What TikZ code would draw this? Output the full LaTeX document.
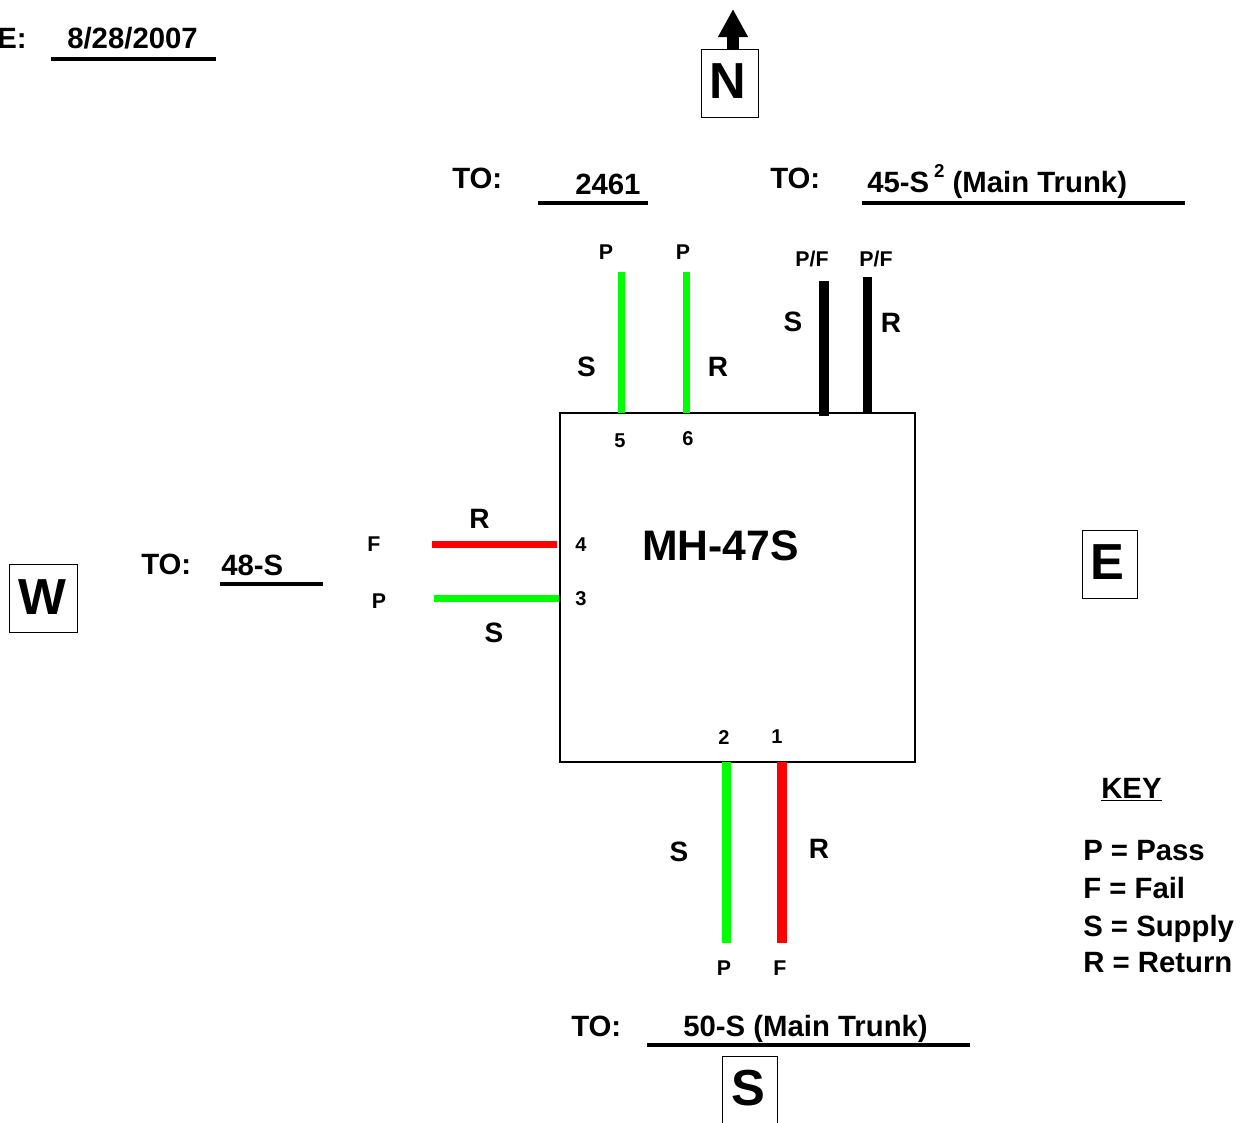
\documentclass[tikz,border=0pt]{standalone}
\usepackage{fontspec}
\setmainfont{Liberation Sans}
\usepackage{xcolor}
\usetikzlibrary{arrows.meta, positioning}
\definecolor{line-green}{RGB}{0, 255, 0}
\definecolor{line-red}{RGB}{255, 0, 0}
\begin{document}
\begin{tikzpicture}[
    x=0.75pt, y=-0.75pt,
    unit/.style={rectangle, draw=black, line width=1.6pt, inner sep=0pt,
                 minimum width=266.25pt, minimum height=261.75pt},
    dirbox/.style={rectangle, draw=black, line width=0.75pt, inner sep=0pt,
                   font=\fontsize{38}{38}\bfseries},
    to/.style={font=\fontsize{22}{22}\bfseries, anchor=base west, inner sep=0pt},
    lbl/.style={font=\fontsize{21}{21}\bfseries, inner sep=0pt},
    pin/.style={font=\fontsize{16}{16}\bfseries, inner sep=0pt},
    num/.style={font=\fontsize{15}{15}\bfseries, inner sep=0pt},
    rule/.style={line width=3pt},
    pipe/.style={line width=#1}, pipe/.default=5.25pt
  ]
    \clip (0,0) rectangle (1246,1122);

    % unit
    \node[unit] (mh) at (737.5,587.5) {};
    \node[font=\fontsize{32}{32}\bfseries, inner sep=0pt] (tag) at (720.5,546) {MH-47S};

    % compass boxes
    \node[dirbox, minimum width=42.75pt, minimum height=51pt] (nb) at (729.5,83) {};
    \node[dirbox, minimum width=41.25pt, minimum height=51pt] (eb) at (1109.5,564.5) {};
    \node[dirbox, minimum width=51pt, minimum height=51pt]    (wb) at (43.5,598.5) {};
    \node[dirbox, minimum width=41.25pt, minimum height=51pt] (sb) at (749.5,1090.5) {};
    \node[font=\fontsize{38}{38}\bfseries, inner sep=0pt] (nl) at (727.5,81) {N};
    \node[font=\fontsize{38}{38}\bfseries, inner sep=0pt] (el) at (1107.5,562) {E};
    \node[font=\fontsize{38}{38}\bfseries, inner sep=0pt] (wl) at (42,597) {W};
    \node[font=\fontsize{38}{38}\bfseries, inner sep=0pt] (sl) at (748,1088) {S};

    \coordinate (nfoot) at (733,49);
    \coordinate (ntip) at (733,9);
    \draw[-{Triangle[length=21pt, width=21pt]}, line width=8.5pt] (nfoot) -- (ntip);

    % date
    \node[to] (date) at (-3,48) {E:};
    \node[to] (dateval) at (67,48) {8/28/2007};
    \coordinate (d1) at (51,58.5);
    \coordinate (d2) at (216,58.5);
    \draw[rule] (d1) -- (d2);

    % north
    \node[to] (tonw) at (452,188) {TO:};
    \node[to] (vnw) at (575,194) {2461};
    \coordinate (nw1) at (538,203);
    \coordinate (nw2) at (648,203);
    \draw[rule] (nw1) -- (nw2);

    \node[to] (tone) at (770,188) {TO:};
    \node[to] (vne) at (867,192) {45-S\,\raisebox{11pt}{\fontsize{14}{14}\bfseries 2} (Main Trunk)};
    \coordinate (ne1) at (862,203);
    \coordinate (ne2) at (1185,203);
    \draw[rule] (ne1) -- (ne2);

    \coordinate (p5) at (621,272);
    \coordinate (q5) at (621,413);
    \coordinate (p6) at (686.5,272);
    \coordinate (q6) at (686.5,413);
    \coordinate (p7) at (824,281);
    \coordinate (q7) at (824,416);
    \coordinate (p8) at (867.5,277);
    \coordinate (q8) at (867.5,413);
    \draw[pipe, line-green] (p5) -- (q5);
    \draw[pipe, line-green] (p6) -- (q6);
    \draw[pipe=7pt, black] (p7) -- (q7);
    \draw[pipe=7pt, black] (p8) -- (q8);

    \node[pin] (pa) at (606,252) {P};
    \node[pin] (pb) at (683,252) {P};
    \node[pin] (pc) at (812,259) {P/F};
    \node[pin] (pd) at (876,259) {P/F};
    \node[lbl] (s5) at (586.5,367) {S};
    \node[lbl] (r6) at (718,367) {R};
    \node[lbl] (s7) at (793,322) {S};
    \node[lbl] (r8) at (891,323) {R};
    \node[num] (n5) at (620,441) {5};
    \node[num] (n6) at (688,439) {6};

    % west
    \node[to] (tow) at (141,574) {TO:};
    \node[to] (vw) at (221,575) {48-S};
    \coordinate (w1) at (220,584);
    \coordinate (w2) at (323,584);
    \draw[rule] (w1) -- (w2);

    \coordinate (p4) at (432,544.5);
    \coordinate (q4) at (557,544.5);
    \coordinate (p3) at (434,598.5);
    \coordinate (q3) at (559,598.5);
    \draw[pipe, line-red] (p4) -- (q4);
    \draw[pipe, line-green] (p3) -- (q3);
    \node[lbl] (r4) at (479.5,519) {R};
    \node[lbl] (s3) at (494,632.5) {S};
    \node[pin] (f4) at (374,544) {F};
    \node[pin] (p3l) at (379,601) {P};
    \node[num] (n4) at (581,545) {4};
    \node[num] (n3) at (581,599) {3};

    % south
    \coordinate (q2) at (726.5,762);
    \coordinate (p2) at (726.5,943);
    \coordinate (q1) at (782,762);
    \coordinate (p1) at (782,943);
    \draw[pipe=7pt, line-green] (q2) -- (p2);
    \draw[pipe=7pt, line-red] (q1) -- (p1);
    \node[lbl] (s2) at (679,852) {S};
    \node[lbl] (r1) at (819,849) {R};
    \node[num] (n2) at (724,738) {2};
    \node[num] (n1) at (777,737) {1};
    \node[pin] (p2l) at (724,968) {P};
    \node[pin] (f1) at (780,968) {F};

    \node[to] (tos) at (571,1036) {TO:};
    \node[to] (vs) at (683,1036) {50-S (Main Trunk)};
    \coordinate (s1) at (647,1045);
    \coordinate (s2e) at (970,1045);
    \draw[rule] (s1) -- (s2e);

    % key
    \node[to, font=\fontsize{22}{22}\bfseries] (key) at (1101,798) {\underline{KEY}};
    \node[to] (kp) at (1083,860) {P = Pass};
    \node[to] (kf) at (1083,898) {F = Fail};
    \node[to] (ks) at (1083,936) {S = Supply};
    \node[to] (kr) at (1083,972) {R = Return};
  \end{tikzpicture}
\end{document}
